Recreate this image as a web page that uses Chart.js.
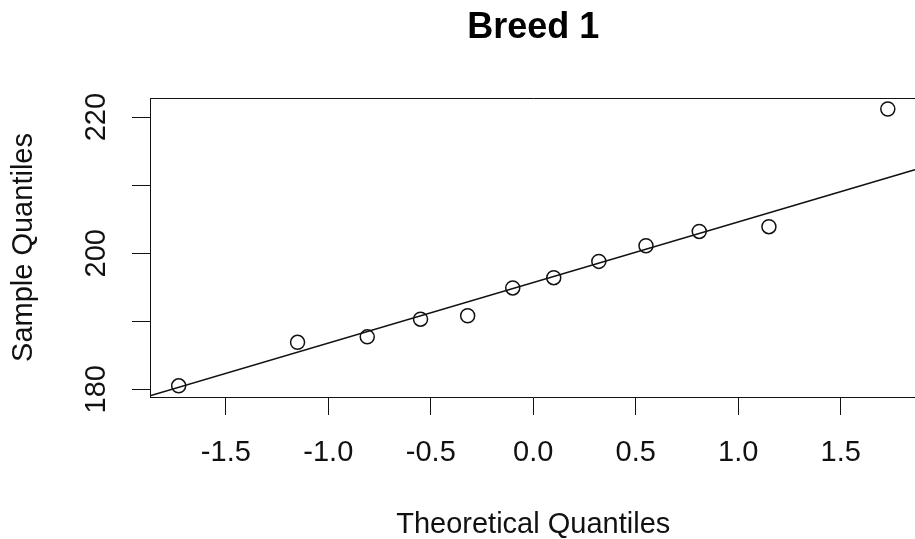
<!DOCTYPE html>
<html>
<head>
<meta charset="utf-8">
<title>Breed 1</title>
<script src="https://cdn.jsdelivr.net/npm/chart.js@4"></script>
<style>
  body { margin: 0; background: #fff; }
  /* the plot box runs a little past the right edge of the window, like the original */
  #wrap { width: 915px; height: 539px; overflow: hidden; }
</style>
</head>
<body>
<div id="wrap"><canvas id="canvas" width="925" height="539"></canvas></div>
<script>
// normal Q-Q plot for breed 1
let theoretical = [-1.73, -1.15, -0.81, -0.55, -0.32, -0.10, 0.10, 0.32, 0.55, 0.81, 1.15, 1.73];
let sample      = [180.5, 186.9, 187.7, 190.3, 190.8, 194.9, 196.4, 198.8, 201.1, 203.2, 203.9, 221.2];

// reference line (qqline)
let lineIntercept = 195.7;
let lineSlope = 8.9;

// axis limits and ticks
let xLimits = [-1.87, 1.87];
let yLimits = [178.86, 222.82];
let xTicks  = [-1.5, -1.0, -0.5, 0, 0.5, 1.0, 1.5];
let yTicks  = [180, 190, 200, 210, 220];
let yLabels = ['180', '', '200', '', '220'];

let font = 'Liberation Sans, Arial, Helvetica, sans-serif';

let points = [];
for (let i = 0; i < theoretical.length; i++) {
  points.push({ x: theoretical[i], y: sample[i] });
}

// line runs across the whole plot
let linePoints = [
  { x: xLimits[0], y: lineIntercept + lineSlope * xLimits[0] },
  { x: xLimits[1], y: lineIntercept + lineSlope * xLimits[1] }
];

let options = {
  type: 'scatter',
  data: {
    datasets: [
      {
        data: points,
        pointStyle: 'circle',
        pointRadius: 7,
        pointBorderWidth: 1.5,
        borderColor: '#111',
        backgroundColor: 'rgba(0,0,0,0)'
      },
      {
        type: 'line',
        data: linePoints,
        borderColor: '#111',
        borderWidth: 1.5,
        pointRadius: 0,
        fill: false
      }
    ]
  },
  options: {
    responsive: false,
    animation: false,
    layout: { padding: { left: 0, right: 8, top: 0, bottom: 0 } },
    plugins: {
      legend: { display: false },
      tooltip: { enabled: false }
    },
    scales: {
      x: {
        type: 'linear',
        position: 'bottom',
        min: xLimits[0],
        max: xLimits[1],
        afterBuildTicks: function(scale) {
          scale.ticks = xTicks.map(v => ({ value: v }));
        },
        afterFit: function(scale) { scale.height = 142; },
        grid: { drawOnChartArea: false, drawTicks: true, tickLength: 18, color: '#111', lineWidth: 1 },
        border: { display: true, color: '#111', width: 1 },
        ticks: {
          autoSkip: false,
          maxRotation: 0,
          padding: 21,
          color: '#111',
          font: { family: font, size: 29 },
          callback: function(value) { return value.toFixed(1); }
        },
        title: {
          display: true,
          text: 'Theoretical Quantiles',
          color: '#111',
          font: { family: font, size: 29, lineHeight: 1 },
          padding: { top: 0, bottom: 0 }
        }
      },
      // top axis only carries the main title and the top edge of the box
      x2: {
        type: 'linear',
        position: 'top',
        display: true,
        min: xLimits[0],
        max: xLimits[1],
        afterFit: function(scale) { scale.height = 98; },
        grid: { drawOnChartArea: false, drawTicks: false },
        border: { display: true, color: '#111', width: 1 },
        ticks: { display: false },
        title: {
          display: true,
          text: 'Breed 1',
          color: '#000',
          font: { family: font, size: 36, weight: 'bold', lineHeight: 1.2 },
          padding: { top: 6, bottom: 0 }
        }
      },
      y: {
        type: 'linear',
        position: 'left',
        min: yLimits[0],
        max: yLimits[1],
        afterBuildTicks: function(scale) {
          scale.ticks = yTicks.map(v => ({ value: v }));
        },
        afterFit: function(scale) { scale.width = 150; },
        grid: { drawOnChartArea: false, drawTicks: true, tickLength: 18, color: '#111', lineWidth: 1 },
        border: { display: true, color: '#111', width: 1 },
        ticks: {
          autoSkip: false,
          minRotation: 90,
          maxRotation: 90,
          crossAlign: 'center',
          padding: 11,
          color: '#111',
          font: { family: font, size: 29 },
          callback: function(value, index) { return yLabels[index]; }
        },
        title: {
          display: true,
          text: 'Sample Quantiles',
          color: '#111',
          font: { family: font, size: 29, lineHeight: 1 },
          padding: { top: 9, bottom: 0 }
        }
      }
    }
  }
};

let chart = new Chart(document.getElementById('canvas'), options);
</script>
</body>
</html>
